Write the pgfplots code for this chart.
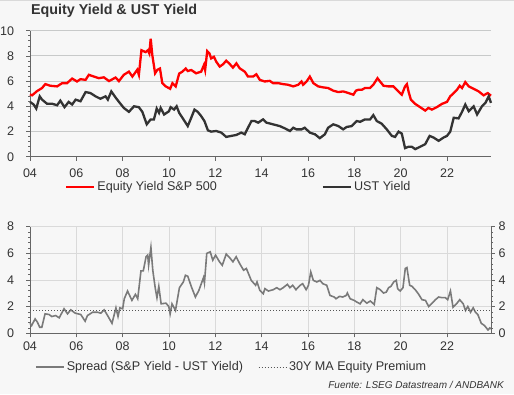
\documentclass[border=0pt]{standalone}
\usepackage{fontspec}
\setmainfont{Liberation Sans}
\usepackage{pgfplots}
\pgfplotsset{compat=1.18}
\definecolor{bg}{HTML}{F7F7F7}
\definecolor{txt}{HTML}{333333}
\definecolor{axc}{HTML}{666666}
\definecolor{gridc}{HTML}{C8CACA}
\definecolor{gridb}{HTML}{DADADA}
\definecolor{redl}{HTML}{FF0000}
\definecolor{blackl}{HTML}{333333}
\definecolor{sprd}{HTML}{7A7A7A}
\definecolor{mal}{HTML}{555555}
\pgfplotsset{
  common/.style={
    scale only axis, xmin=2004, xmax=2023.9,
    axis line style={axc, line width=0.8pt},
    tick style={axc, line width=0.6pt},
    major tick length=4pt, minor tick length=2pt,
    tick align=outside,
    xtick={2004,2006,...,2022},
    xticklabels={04,06,08,10,12,14,16,18,20,22},
    minor x tick num=7, minor y tick num=4,
    ticklabel style={font=\fontsize{12.5}{14}\selectfont, text=txt},
    legend image code/.code={\draw[##1] (0pt,0pt) -- (28pt,0pt);},
    clip=false,
  }
}
\begin{document}
\begin{tikzpicture}
\fill[bg] (0pt,0pt) rectangle (514pt,394pt);
\useasboundingbox (0pt,0pt) rectangle (514pt,394pt);
\draw[gridb, line width=1.5pt] (0pt,393.5pt) -- (514pt,393.5pt);
\node[anchor=west, inner sep=0pt, font=\bfseries\fontsize{14.3}{16}\selectfont, text=txt] at (31pt,383pt) {Equity Yield \& UST Yield};

\begin{axis}[common,
  at={(30pt,237.3pt)}, anchor=south west, width=461pt, height=126pt,
  ymin=0, ymax=10, ytick={0,2,...,10}, yticklabels={0,2,4,6,8,10},
  axis x line*=bottom, axis y line*=left,
  ymajorgrids, major grid style={gridc, line width=0.8pt},
  yticklabel style={xshift=-8.5pt},
  xticklabel style={yshift=-4.5pt},
  legend columns=2,
  legend style={at={(axis description cs:0.0759,-0.2405)}, anchor=west, draw=none, fill=none, inner sep=0pt,
    font=\fontsize{12.6}{14}\selectfont, text=txt,
    /tikz/every even column/.append style={column sep=103pt}},
]
\addplot[redl, line width=2.3pt] coordinates {
(2004.00,4.95)(2004.09,4.87)(2004.30,5.2)(2004.52,5.45)(2004.66,5.76)(2004.88,5.63)(2005.17,5.58)(2005.39,5.84)(2005.60,5.84)(2005.82,6.2)(2006.03,5.97)(2006.18,6.15)(2006.40,6.1)(2006.54,6.5)(2006.76,6.36)(2006.97,6.23)(2007.19,6.3)(2007.41,6.0)(2007.69,6.28)(2007.84,6.0)(2008.05,6.5)(2008.27,6.75)(2008.42,6.36)(2008.63,6.9)(2008.70,6.5)(2008.81,8.45)(2008.99,8.3)(2009.09,8.45)(2009.15,8.2)(2009.21,9.37)(2009.28,8.06)(2009.40,6.62)(2009.50,6.9)(2009.61,7.0)(2009.71,5.84)(2009.86,5.58)(2010.05,5.39)(2010.15,5.84)(2010.29,5.58)(2010.44,6.6)(2010.58,6.75)(2010.72,7.0)(2010.81,6.8)(2010.96,6.88)(2011.17,6.62)(2011.39,6.75)(2011.51,7.28)(2011.56,6.88)(2011.65,8.38)(2011.75,8.19)(2011.82,7.8)(2011.94,7.93)(2012.04,7.54)(2012.19,7.15)(2012.33,7.33)(2012.47,7.62)(2012.62,7.36)(2012.76,7.07)(2012.91,7.41)(2013.05,7.02)(2013.27,6.75)(2013.41,6.36)(2013.63,6.36)(2013.77,6.54)(2013.92,6.1)(2014.13,5.97)(2014.35,6.02)(2014.49,5.84)(2014.71,5.84)(2014.93,5.76)(2015.14,5.71)(2015.36,5.58)(2015.58,5.71)(2015.72,5.97)(2015.79,5.71)(2015.94,5.97)(2016.08,6.36)(2016.23,5.84)(2016.44,5.58)(2016.66,5.5)(2016.87,5.45)(2017.09,5.24)(2017.31,5.13)(2017.52,5.18)(2017.67,5.1)(2017.96,4.92)(2018.07,5.24)(2018.17,5.31)(2018.32,5.31)(2018.46,5.45)(2018.68,5.45)(2018.82,5.71)(2019.00,6.23)(2019.11,5.97)(2019.26,5.63)(2019.47,5.58)(2019.69,5.58)(2019.83,5.31)(2020.05,4.92)(2020.19,5.58)(2020.27,5.76)(2020.34,5.18)(2020.44,4.53)(2020.63,4.19)(2020.84,3.93)(2021.06,3.66)(2021.20,3.87)(2021.35,3.74)(2021.56,3.93)(2021.78,4.19)(2022.00,4.35)(2022.14,4.79)(2022.29,5.05)(2022.43,5.31)(2022.55,5.63)(2022.65,5.45)(2022.79,5.92)(2022.94,5.58)(2023.15,5.39)(2023.37,5.18)(2023.58,4.87)(2023.76,5.05)(2023.90,4.84)
};
\addlegendentry{Equity Yield S\&P 500}
\addplot[blackl, line width=2.3pt] coordinates {
(2004.00,4.35)(2004.16,4.14)(2004.27,3.82)(2004.42,4.79)(2004.52,4.53)(2004.73,4.21)(2004.95,4.21)(2005.17,4.08)(2005.31,4.45)(2005.49,3.93)(2005.67,4.35)(2005.82,4.14)(2005.97,4.53)(2006.18,4.4)(2006.40,5.13)(2006.61,5.05)(2006.83,4.79)(2007.04,4.6)(2007.26,4.79)(2007.36,4.53)(2007.51,5.18)(2007.69,4.71)(2007.84,4.35)(2008.05,3.87)(2008.27,3.56)(2008.49,4.0)(2008.70,3.93)(2008.85,3.56)(2009.04,2.57)(2009.21,2.96)(2009.35,2.96)(2009.47,3.82)(2009.57,3.48)(2009.64,3.87)(2009.79,3.35)(2010.00,3.61)(2010.07,3.93)(2010.22,3.74)(2010.33,4.0)(2010.44,3.48)(2010.58,3.09)(2010.81,2.43)(2010.96,3.09)(2011.10,3.74)(2011.24,3.56)(2011.39,3.22)(2011.53,2.83)(2011.68,2.09)(2011.82,1.99)(2012.04,2.04)(2012.26,1.91)(2012.47,1.57)(2012.69,1.65)(2012.91,1.73)(2013.12,1.91)(2013.27,1.78)(2013.41,2.3)(2013.56,2.83)(2013.70,2.83)(2013.85,2.7)(2014.06,2.96)(2014.21,2.7)(2014.49,2.57)(2014.78,2.43)(2015.00,2.25)(2015.22,2.04)(2015.36,2.3)(2015.50,2.17)(2015.72,2.17)(2015.86,2.3)(2016.08,1.91)(2016.30,1.78)(2016.51,1.47)(2016.73,1.78)(2016.87,2.3)(2017.09,2.57)(2017.31,2.43)(2017.52,2.17)(2017.67,2.36)(2017.89,2.43)(2018.10,2.83)(2018.25,2.77)(2018.46,2.96)(2018.68,2.96)(2018.82,3.3)(2018.97,2.83)(2019.18,2.62)(2019.40,2.17)(2019.62,1.65)(2019.76,1.57)(2019.91,1.99)(2020.05,1.83)(2020.19,0.68)(2020.34,0.79)(2020.48,0.79)(2020.63,0.6)(2020.84,0.79)(2021.06,0.99)(2021.25,1.65)(2021.42,1.52)(2021.64,1.26)(2021.85,1.52)(2022.00,1.65)(2022.14,1.99)(2022.29,3.09)(2022.50,3.04)(2022.65,3.56)(2022.79,4.14)(2022.94,3.61)(2023.15,4.0)(2023.30,3.35)(2023.51,4.0)(2023.66,4.27)(2023.80,4.79)(2023.90,4.27)
};
\addlegendentry{UST Yield}
\end{axis}

\begin{axis}[common,
  at={(30pt,60.7pt)}, anchor=south west, width=461pt, height=106.7pt,
  ymin=0, ymax=8, ytick={0,2,...,8}, yticklabels={0,2,4,6,8},
  axis x line*=bottom, axis y line*=left,
  xmajorgrids, ymajorgrids, major grid style={gridb, line width=0.8pt},
  yticklabel style={xshift=-8.5pt},
  xticklabel style={yshift=-1pt},
  legend columns=2,
  legend style={at={(axis description cs:0.0108,-0.316)}, anchor=west, draw=none, fill=none, inner sep=0pt,
    font=\fontsize{12.6}{14}\selectfont, text=txt,
    /tikz/every even column/.append style={column sep=13pt}},
]
\addplot[sprd, line width=1.6pt] coordinates {
(2004.00,0.75)(2004.07,0.58)(2004.22,1.08)(2004.32,0.83)(2004.42,0.45)(2004.51,0.45)(2004.65,1.46)(2004.82,1.41)(2004.94,1.26)(2005.11,1.33)(2005.26,1.16)(2005.47,1.84)(2005.62,1.46)(2005.76,1.76)(2005.95,1.51)(2006.19,1.41)(2006.38,0.91)(2006.48,1.33)(2006.70,1.58)(2006.91,1.58)(2007.06,1.51)(2007.20,1.76)(2007.35,1.33)(2007.54,0.75)(2007.71,1.91)(2007.80,1.26)(2007.88,1.91)(2008.00,1.84)(2008.07,2.59)(2008.21,3.17)(2008.40,2.47)(2008.55,2.92)(2008.65,2.59)(2008.79,4.68)(2008.89,4.68)(2009.01,5.74)(2009.08,5.86)(2009.12,5.1)(2009.22,6.44)(2009.30,4.73)(2009.41,3.35)(2009.48,2.67)(2009.56,3.52)(2009.66,2.21)(2009.87,2.26)(2009.99,2.01)(2010.05,1.46)(2010.13,2.21)(2010.28,1.71)(2010.45,3.42)(2010.62,3.85)(2010.71,4.35)(2010.81,4.28)(2010.96,3.52)(2011.14,2.72)(2011.29,3.22)(2011.49,4.18)(2011.53,3.77)(2011.63,5.99)(2011.78,6.11)(2011.89,5.48)(2012.01,5.86)(2012.18,5.36)(2012.30,5.1)(2012.47,5.94)(2012.61,5.69)(2012.76,5.36)(2012.90,5.74)(2013.05,5.23)(2013.22,4.73)(2013.34,4.86)(2013.55,3.97)(2013.74,3.6)(2013.80,3.85)(2013.92,3.22)(2014.07,2.97)(2014.14,3.35)(2014.29,3.17)(2014.50,3.27)(2014.65,3.42)(2014.79,3.27)(2014.93,3.42)(2015.11,3.67)(2015.22,3.42)(2015.34,3.6)(2015.48,3.27)(2015.66,3.6)(2015.77,3.72)(2015.92,3.27)(2016.02,3.6)(2016.12,4.6)(2016.23,3.97)(2016.38,3.85)(2016.52,3.97)(2016.64,3.72)(2016.81,3.6)(2016.95,2.84)(2017.13,2.72)(2017.21,2.59)(2017.36,2.77)(2017.50,2.72)(2017.65,2.84)(2017.70,3.02)(2017.82,2.59)(2017.99,2.47)(2018.11,2.34)(2018.25,2.21)(2018.37,2.52)(2018.54,2.26)(2018.69,2.42)(2018.86,2.16)(2018.97,3.42)(2019.12,3.27)(2019.26,3.02)(2019.38,3.09)(2019.48,3.42)(2019.58,3.52)(2019.70,3.85)(2019.81,3.97)(2019.87,3.35)(2019.98,3.17)(2020.10,3.42)(2020.20,4.86)(2020.27,4.93)(2020.39,3.6)(2020.49,3.52)(2020.63,3.27)(2020.78,2.92)(2020.92,2.52)(2021.07,2.47)(2021.21,2.01)(2021.36,2.26)(2021.50,2.52)(2021.64,2.72)(2021.79,2.67)(2021.93,2.67)(2022.03,2.52)(2022.15,3.17)(2022.26,1.96)(2022.41,2.21)(2022.55,2.52)(2022.70,2.21)(2022.80,1.71)(2022.90,2.01)(2023.02,1.58)(2023.13,1.91)(2023.23,1.58)(2023.33,1.41)(2023.48,0.75)(2023.62,0.58)(2023.77,0.25)(2023.85,0.4)(2023.92,0.33)
};
\addlegendentry{Spread (S\&P Yield - UST Yield)}
\addplot[mal, line width=1pt, dotted] coordinates {(2004,1.72)(2023.9,1.72)};
\addlegendentry{30Y MA Equity Premium}
\end{axis}

\begin{axis}[common,
  at={(30pt,60.7pt)}, anchor=south west, width=461pt, height=106.7pt,
  ymin=0, ymax=8, ytick={0,2,...,8}, yticklabels={0,2,4,6,8},
  axis x line=none, axis y line*=right,
]
\addplot[draw=none] coordinates {(2004,0)(2023.9,8)};
\end{axis}

\node[anchor=east, inner sep=0pt, font=\itshape\fontsize{10}{12}\selectfont, text=txt] at (504pt,9pt) {Fuente: LSEG Datastream / ANDBANK};
\end{tikzpicture}
\end{document}
